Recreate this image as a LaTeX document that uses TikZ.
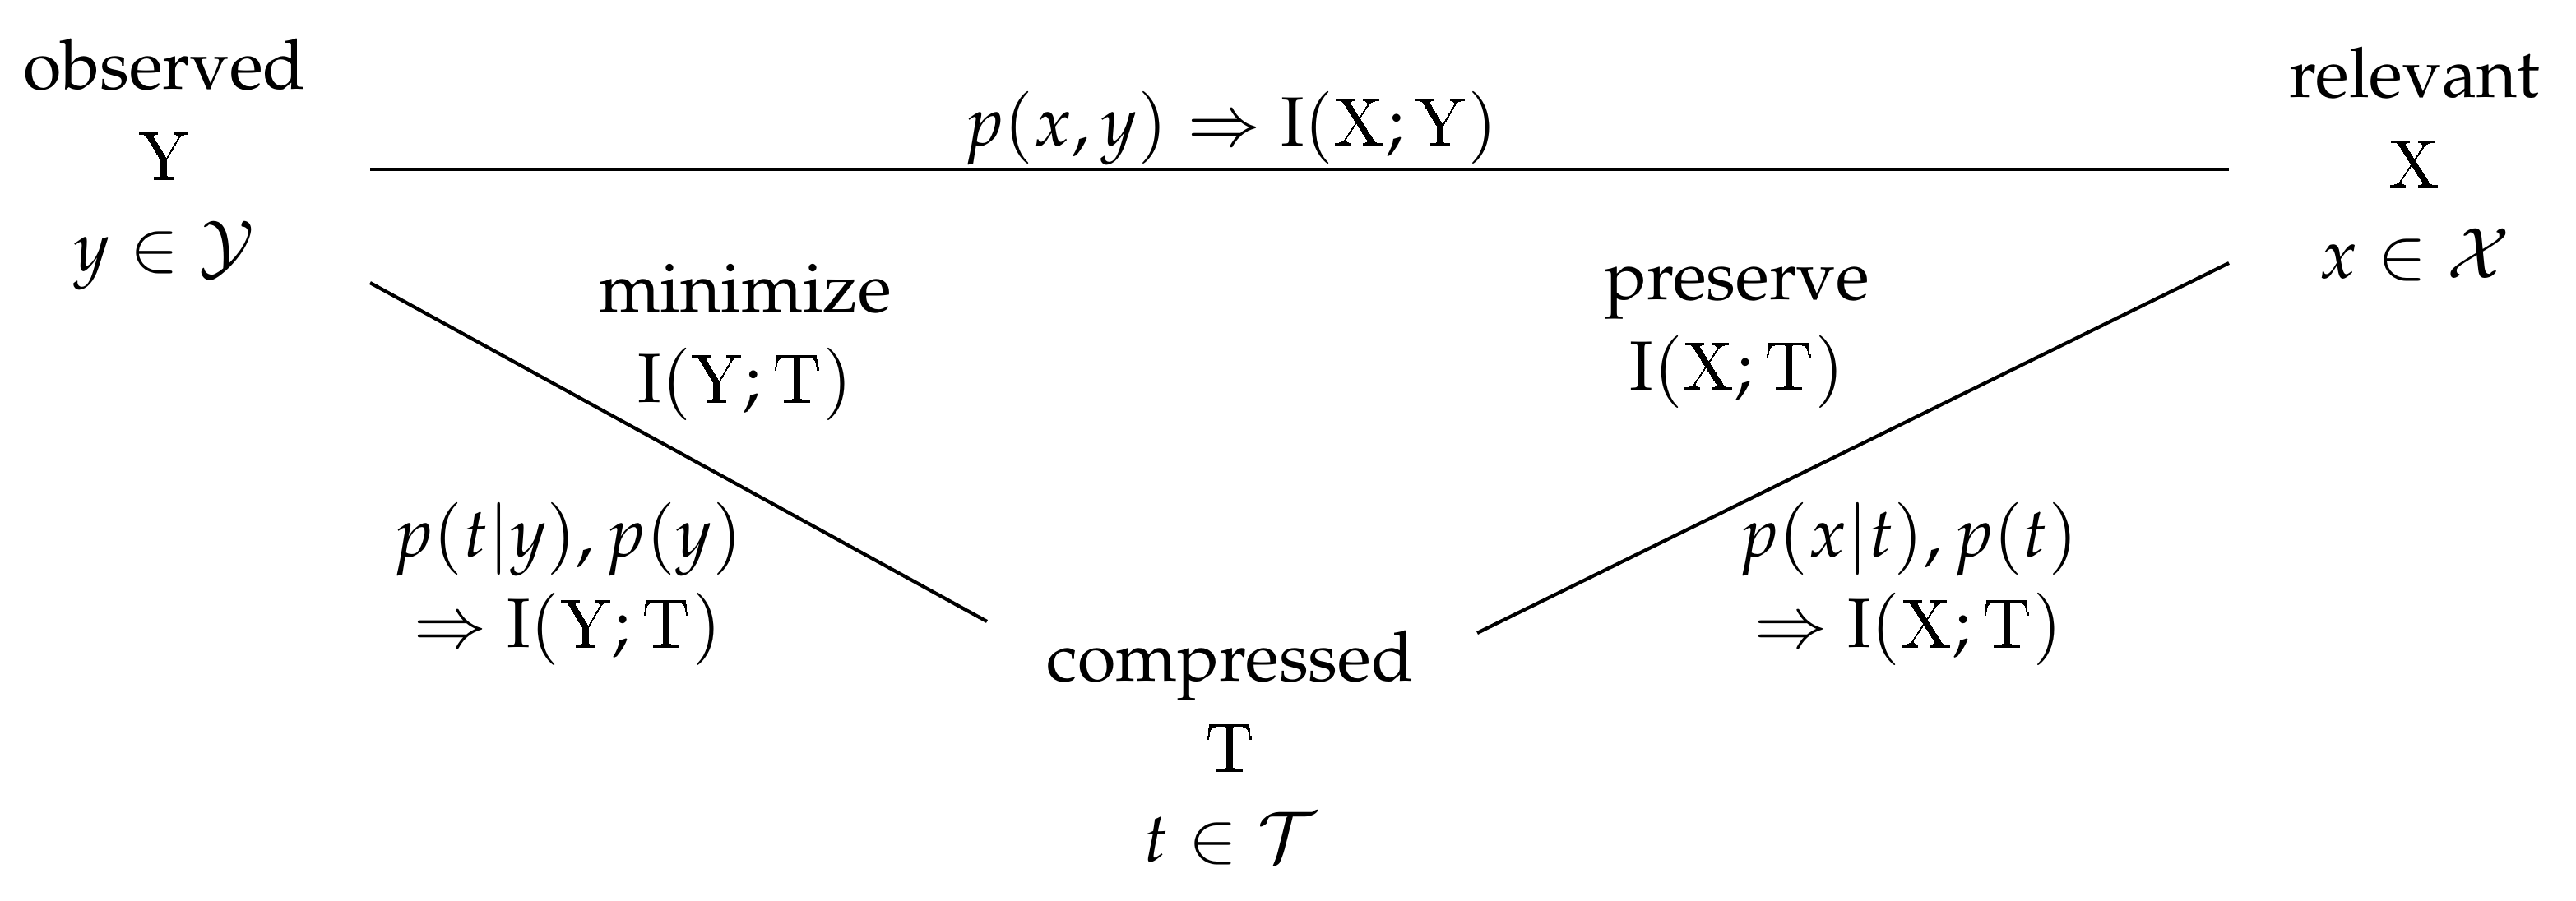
\documentclass[tikz,border=0pt]{standalone}
\usepackage[T1]{fontenc}
\usepackage{mathpazo}
\usepackage{amsmath}
\newcommand{\sv}[1]{\text{\fontfamily{lmss}\selectfont #1}}
\begin{document}
\begin{tikzpicture}[x=0.0083cm,y=-0.0083cm,
  lbl/.style={align=center,inner sep=0pt,font=\fontsize{10}{12}\selectfont},
  edge/.style={line width=0.5pt}]
\useasboundingbox (0,0) rectangle (1566,548);
\node[lbl] (Y) at (100,100) {observed\\[1pt]$\sv{Y}$\\[1pt]$y\in\mathcal{Y}$};
\node[lbl] (X) at (1468,100) {relevant\\[1pt]$\sv{X}$\\[1pt]$x\in\mathcal{X}$};
\node[lbl] (T) at (748,455) {compressed\\[1pt]$\sv{T}$\\[1pt]$t\in\mathcal{T}$};
\coordinate (a1) at (225,103); \coordinate (a2) at (1355,103);
\coordinate (b1) at (225,172); \coordinate (b2) at (600,378);
\coordinate (c1) at (898,385); \coordinate (c2) at (1355,160);
\draw[edge] (a1) -- (a2);
\draw[edge] (b1) -- (b2);
\draw[edge] (c1) -- (c2);
\node[lbl] (top) at (748,78) {$p(x,y)\Rightarrow \mathrm{I}(\sv{X};\sv{Y})$};
\node[lbl] (min) at (453,208) {minimize\\[1pt]$\mathrm{I}(\sv{Y};\sv{T})$};
\node[lbl] (pre) at (1056,205) {preserve\\[1pt]$\mathrm{I}(\sv{X};\sv{T})$};
\node[lbl] (pl) at (345,355) {$p(t|y),p(y)$\\[1pt]$\Rightarrow \mathrm{I}(\sv{Y};\sv{T})$};
\node[lbl] (pr) at (1160,355) {$p(x|t),p(t)$\\[1pt]$\Rightarrow \mathrm{I}(\sv{X};\sv{T})$};
\end{tikzpicture}
\end{document}
